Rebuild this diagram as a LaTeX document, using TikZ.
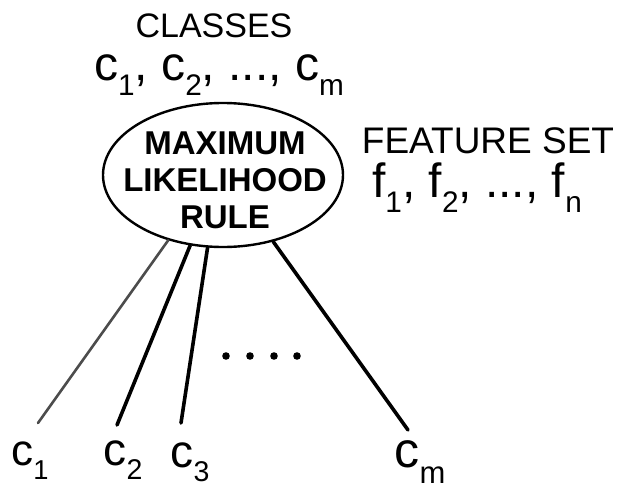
\documentclass[tikz,border=0pt]{standalone}
\usepackage{fontspec}
\setmainfont{Liberation Sans}
\usetikzlibrary{shapes.geometric}
% letter with a lowered, smaller index
\newcommand\idx[2]{#1\raisebox{-0.32em}{\scalebox{0.62}{#2}}}
\begin{document}
\begin{tikzpicture}[x=1pt,y=-1pt,
  hand/.style={inner sep=0pt,anchor=base,text height=0.72em,text depth=0.3em,font=\fontsize{#1}{#1}\selectfont},
  hand/.default=30,
  rulebox/.style={ellipse,draw,line width=2.4pt,minimum width=240pt,minimum height=144pt,inner sep=0pt},
  branch/.style={line width=3.6pt,line cap=round},
  thinbranch/.style={line width=2.6pt,line cap=round,black!70}]
\useasboundingbox (0,0) rectangle (627,490);

% top labels (placed by baseline)
\node[hand=34] (classes) at (214,37) {CLASSES};
\node[hand=48] (clist) at (219,80) {\idx{c}{1}, \idx{c}{2}, ..., \idx{c}{m}};

% the rule
\node[rulebox] (ml) at (223,175) {};
\node[inner sep=0pt,align=center,font=\fontsize{33}{33}\selectfont\bfseries] (mltext) at (225,180)
  {MAXIMUM\\[4pt]LIKELIHOOD\\[4pt]RULE};

% feature set
\node[hand=37] (fset) at (488,153) {FEATURE SET};
\node[hand=48] (flist) at (477,197) {\idx{f}{1}, \idx{f}{2}, ..., \idx{f}{n}};

% class outputs
\node[hand=44] (o1) at (30,465) {\idx{c}{1}};
\node[hand=46] (o2) at (123,465) {\idx{c}{2}};
\node[hand=46] (o3) at (190,467) {\idx{c}{3}};
\node[hand=50,text depth=0.2em] (om) at (420,467) {\idx{c}{m}};

\coordinate (e1) at (38,423);
\coordinate (e2) at (117,425);
\coordinate (e3) at (181,423);
\coordinate (em) at (408,430);

\draw[thinbranch] (ml.230) -- (e1);
\draw[branch] (ml.245.5) -- (e2);
\draw[branch] (ml.258.7) -- (e3);
\draw[branch] (ml.307) -- (em);

% ellipsis between the branches
\foreach \x in {226,250,274,297}
  \fill (\x,356) circle (3.8pt);
\end{tikzpicture}
\end{document}
